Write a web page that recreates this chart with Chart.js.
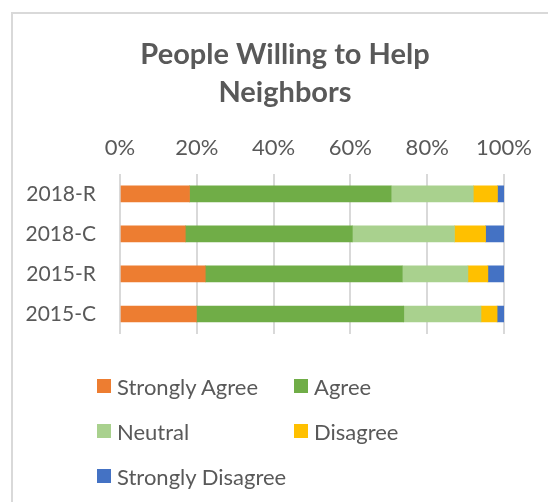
<!DOCTYPE html>
<html>
<head>
<meta charset="utf-8">
<script src="https://cdn.jsdelivr.net/npm/chart.js@4.4.0/dist/chart.umd.min.js"></script>
<style>
    html, body { margin: 0; padding: 0; background: #fff; overflow: hidden; }
    body { width: 548px; height: 502px; position: relative; }
    #frame { position: absolute; left: 11px; top: 12px; width: 600px; height: 600px;
             border-left: 2px solid #d9d9d9; border-top: 2px solid #d9d9d9; }
    #wrap { position: absolute; left: 0; top: 0; width: 570px; height: 502px; }
    #legend { position: absolute; left: 97px; top: 372px; font-family: Lato, sans-serif;
              font-size: 22px; color: #595959; }
    .item { position: absolute; white-space: nowrap; display: flex; align-items: center; height: 28px; }
    .box { width: 14px; height: 14px; margin-right: 6px; }
</style>
</head>
<body>
<div id="frame"></div>
<div id="wrap"><canvas id="chart" width="570" height="502"></canvas></div>
<div id="legend"></div>
<script>
const categories = ['2018-R', '2018-C', '2015-R', '2015-C'];
const seriesNames = ['Strongly Agree', 'Agree', 'Neutral', 'Disagree', 'Strongly Disagree'];
const seriesColors = ['#ED7D31', '#70AD47', '#A9D18E', '#FFC000', '#4472C4'];

const stronglyAgree = [18.1, 17.0, 22.2, 19.9];
const agree = [52.5, 43.5, 51.3, 54.0];
const neutral = [21.4, 26.6, 17.1, 20.1];
const disagree = [6.3, 8.1, 5.2, 4.2];
const stronglyDisagree = [1.7, 4.8, 4.2, 1.8];
const seriesValues = [stronglyAgree, agree, neutral, disagree, stronglyDisagree];

const xTicks = [0, 20, 40, 60, 80, 100];

const textColor = '#595959';

const ctx = document.getElementById('chart').getContext('2d');
const chart = new Chart(ctx, {
    type: 'bar',
    data: {
        labels: categories,
        datasets: seriesNames.map((name, i) => ({
            label: name,
            data: seriesValues[i],
            backgroundColor: seriesColors[i],
            barThickness: 16,
        }))
    },
    options: {
        indexAxis: 'y',
        responsive: false,
        animation: false,
        layout: { padding: { left: 0, right: 0, top: 0, bottom: 168 } },
        plugins: {
            legend: { display: false },
            tooltip: { enabled: false },
            title: {
                display: true,
                text: ['People Willing to Help', 'Neighbors'],
                color: textColor,
                font: { family: 'Lato', size: 29, weight: 'bold', lineHeight: 1.3 },
                padding: { top: 36, bottom: 10 }
            }
        },
        scales: {
            x: {
                position: 'top',
                stacked: true,
                min: 0,
                max: 100,
                afterBuildTicks: axis => { axis.ticks = xTicks.map(v => ({ value: v })); },
                ticks: {
                    color: textColor,
                    font: { family: 'Lato', size: 22 },
                    padding: 13,
                    callback: v => v + '%'
                },
                grid: { color: '#d9d9d9', lineWidth: 2, drawTicks: false },
                border: { display: false }
            },
            y: {
                stacked: true,
                afterFit: scale => { scale.width = 120; },
                ticks: {
                    color: textColor,
                    font: { family: 'Lato', size: 21 },
                    padding: 24
                },
                grid: { display: false, drawTicks: false },
                border: { display: false }
            },
            right: {
                position: 'right',
                afterFit: scale => { scale.width = 66; },
                ticks: { display: false },
                grid: { display: false, drawTicks: false },
                border: { display: false }
            }
        }
    }
});

// legend, two columns
const legend = document.getElementById('legend');
seriesNames.forEach((name, i) => {
    const el = document.createElement('div');
    el.className = 'item';
    el.style.left = (i % 2) * 197 + 'px';
    el.style.top = Math.floor(i / 2) * 45 + 'px';
    el.innerHTML = `<span class="box" style="background:${seriesColors[i]}"></span><span>${name}</span>`;
    legend.appendChild(el);
});
</script>
</body>
</html>
